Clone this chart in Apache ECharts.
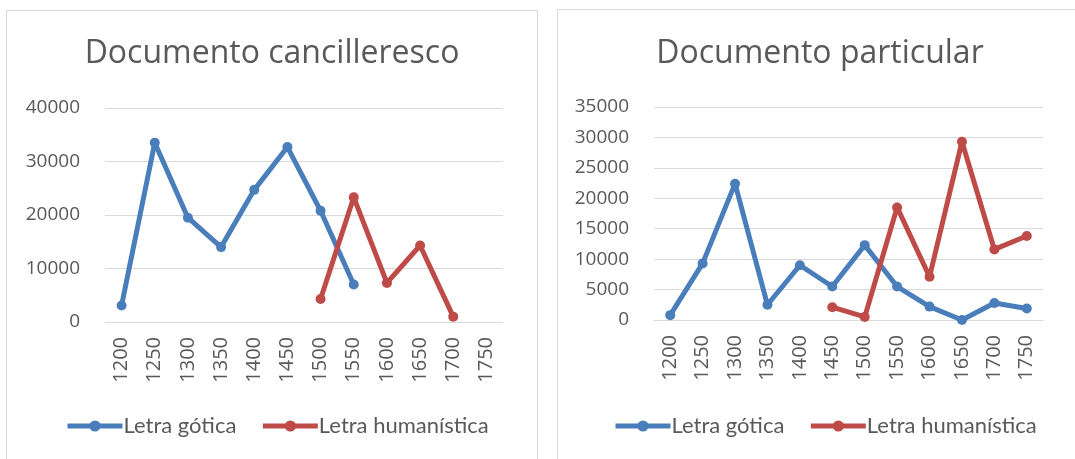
<!DOCTYPE html>
<html lang="es">
<head>
    <meta charset="UTF-8"/>
    <title>Letra gótica y humanística</title>
    <script src="https://cdn.jsdelivr.net/npm/echarts@6/dist/echarts.min.js"></script>
    <style>
        html, body { margin: 0; padding: 0; background: #fff; }
    </style>
</head>
<body>
<div id="main" style="width: 1075px; height: 459px;"></div>
<script type="text/javascript">
    var years = ['1200', '1250', '1300', '1350', '1400', '1450', '1500', '1550', '1600', '1650', '1700', '1750'];

    // Documento cancilleresco
    var cancGotica = [3100, 33500, 19500, 14000, 24700, 32700, 20800, 7000, null, null, null, null];
    var cancHumanistica = [null, null, null, null, null, null, 4300, 23300, 7300, 14300, 1000, null];

    // Documento particular
    var partGotica = [800, 9300, 22400, 2500, 9000, 5500, 12300, 5500, 2200, 0, 2800, 1900];
    var partHumanistica = [null, null, null, null, null, 2100, 500, 18500, 7100, 29300, 11600, 13800];

    var blue = '#4a7ebb';
    var red = '#be4b48';
    var grey = '#595959';
    var font = 'Open Sans';

    var myChart = echarts.init(document.getElementById('main'));

    function lineSeries(name, data, color, idx) {
        return {
            name: name,
            type: 'line',
            xAxisIndex: idx,
            yAxisIndex: idx,
            data: data,
            symbol: 'circle',
            symbolSize: 10,
            connectNulls: false,
            color: color,
            lineStyle: {width: 5, color: color},
            itemStyle: {color: color}
        };
    }

    function yAxis(idx, max, step) {
        return {
            type: 'value',
            gridIndex: idx,
            min: 0,
            max: max,
            interval: step,
            axisLabel: {
                color: grey, fontSize: 19, fontFamily: font, margin: 25,
                formatter: function (v) { return String(v); }
            },
            splitLine: {lineStyle: {color: '#d9d9d9', width: 1}},
            axisLine: {show: false},
            axisTick: {show: false}
        };
    }

    function xAxis(idx) {
        return {
            type: 'category',
            gridIndex: idx,
            data: years,
            boundaryGap: true,
            axisLabel: {color: grey, fontSize: 20, fontFamily: font, rotate: 90, margin: 15, interval: 0},
            axisLine: {lineStyle: {color: '#d9d9d9'}},
            axisTick: {show: false}
        };
    }

    function legend(left) {
        return {
            data: ['Letra gótica', 'Letra humanística'],
            left: left,
            top: 410,
            itemWidth: 55,
            itemHeight: 14,
            itemGap: 24,
            lineStyle: {width: 5},
            textStyle: {color: grey, fontSize: 22, fontFamily: 'Lato', padding: [0, 0, 0, -4]},
            selectedMode: false
        };
    }

    var option = {
        backgroundColor: '#fff',
        animation: false,
        title: [
            {text: 'Documento cancilleresco', left: 267, top: 33, textAlign: 'center',
                textStyle: {color: grey, fontSize: 32, fontWeight: 'normal', fontFamily: font}},
            {text: 'Documento particular', left: 815, top: 33, textAlign: 'center',
                textStyle: {color: grey, fontSize: 32, fontWeight: 'normal', fontFamily: font}}
        ],
        graphic: [
            {type: 'rect', shape: {x: 6.5, y: 10.5, width: 531, height: 460},
                style: {fill: 'none', stroke: '#d9d9d9', lineWidth: 1}, silent: true},
            {type: 'rect', shape: {x: 557.5, y: 9.5, width: 531, height: 460},
                style: {fill: 'none', stroke: '#d9d9d9', lineWidth: 1}, silent: true}
        ],
        legend: [legend(60), legend(608)],
        grid: [
            {left: 105, top: 108, width: 398, height: 214},
            {left: 654, top: 107, width: 389, height: 213}
        ],
        xAxis: [xAxis(0), xAxis(1)],
        yAxis: [yAxis(0, 40000, 10000), yAxis(1, 35000, 5000)],
        series: [
            lineSeries('Letra gótica', cancGotica, blue, 0),
            lineSeries('Letra humanística', cancHumanistica, red, 0),
            lineSeries('Letra gótica', partGotica, blue, 1),
            lineSeries('Letra humanística', partHumanistica, red, 1)
        ]
    };

    myChart.setOption(option);
</script>
</body>
</html>
